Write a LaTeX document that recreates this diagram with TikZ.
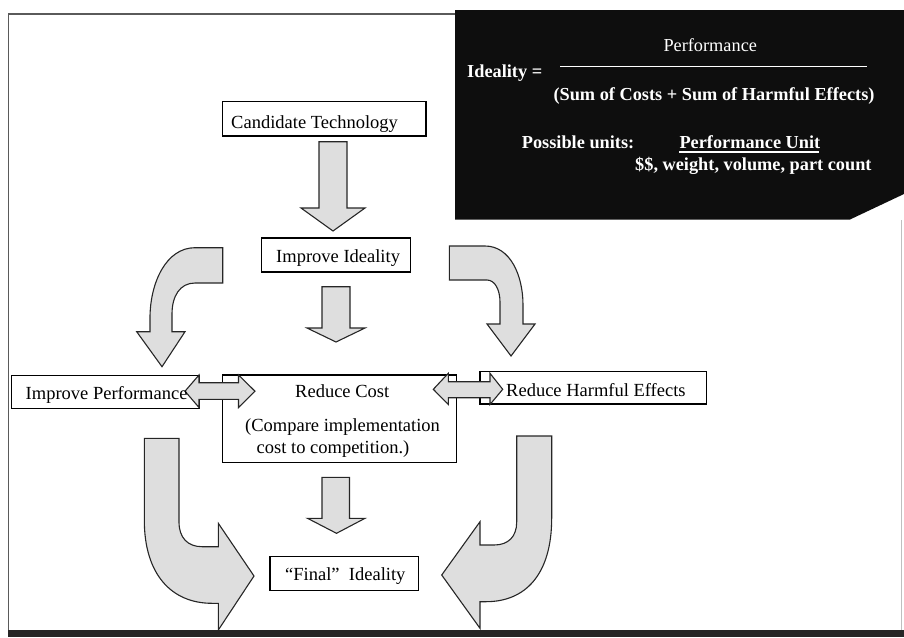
\documentclass[tikz,border=0pt]{standalone}
\usepackage{fontspec}
\setmainfont{Liberation Serif}
\definecolor{arrowgray}{RGB}{222,222,222}
\definecolor{panelblack}{RGB}{14,14,14}
\definecolor{framegray}{RGB}{90,90,90}
\begin{document}
\begin{tikzpicture}[x=1pt,y=-1pt,
  box/.style={draw, line width=1.1pt, inner sep=0pt, fill=white},
  lbl/.style={anchor=base west, inner sep=0pt, font=\fontsize{18.5}{20}\selectfont},
  plbl/.style={anchor=base west, inner sep=0pt, text=white, font=\fontsize{18.3}{20}\selectfont},
  wlbl/.style={anchor=base west, inner sep=0pt, text=white, font=\fontsize{18.3}{20}\selectfont\bfseries},
  blockarrow/.style={draw=black!85, line width=1.1pt, fill=arrowgray, line join=miter}]
\useasboundingbox (0,0) rectangle (904,637);

% page frame
\draw[framegray, line width=1.5pt] (8.3,630) -- (8.3,14) -- (455,14);
\draw[black!25, line width=0.8pt] (901.5,220) -- (901.5,630);
\fill[black!85] (8,630) rectangle (904,637);

% formula panel
\fill[panelblack] (455,10) -- (904,10) -- (904,194) -- (850,219.5) -- (455,219.5) -- cycle;
\node[plbl] (perf) at (663.3,51.7) {Performance};
\node[wlbl] (ideq) at (467,77.7) {Ideality =};
\draw[white, line width=1.4pt] (560,66.7) -- (867,66.7);
\node[wlbl] (denom) at (553.3,100) {(Sum of Costs + Sum of Harmful Effects)};
\node[wlbl] (units) at (521.7,148) {Possible units:};
\node[wlbl] (punit) at (679.3,148) {Performance Unit};
\draw[white, line width=1.4pt] (punit.south west) ++(0,3.5) -- ++(140,0);
\node[wlbl] (pcost) at (635,170) {\$\$, weight, volume, part count};

% boxes
\node[box, minimum width=203.3pt, minimum height=34.3pt] (ct) at (324.35,118.85) {};
\node[box, minimum width=149pt, minimum height=34pt] (ii) at (336.2,255) {};
\node[box, minimum width=187.6pt, minimum height=32.6pt] (ip) at (105.5,392) {};
\node[box, minimum width=234pt, minimum height=87.3pt] (rc) at (339.5,418.65) {};
\node[box, minimum width=226.7pt, minimum height=32.3pt] (rh) at (593.35,387.85) {};
\node[box, minimum width=148.3pt, minimum height=34pt] (fi) at (344.15,573.7) {};

% straight block arrows
\draw[blockarrow] (319,141.7) -- (347,141.7) -- (347,208) -- (365,208) -- (333,231) -- (301,208) -- (319,208) -- cycle;
\draw[blockarrow] (322,286.7) -- (350,286.7) -- (350,328) -- (365,328) -- (336,342) -- (307,328) -- (322,328) -- cycle;
\draw[blockarrow] (322,477.3) -- (349.5,477.3) -- (349.5,518.3) -- (365,518.3) -- (336.5,533.3) -- (307.5,518.3) -- (322,518.3) -- cycle;

% bent arrows out of "Improve Ideality"
\draw[blockarrow] (222.7,247.7) -- (195,247.7) .. controls (166,247.7) and (150,283) .. (150,318)
  -- (150,331.7) -- (136.7,331.7) -- (162,366.7) -- (185,331.7) -- (172,331.7) -- (172,314)
  .. controls (172,296) and (180,283) .. (195,283) -- (222.7,283) -- cycle;
\draw[blockarrow] (449.3,246) -- (485,246) .. controls (510,246) and (523,275) .. (523,305)
  -- (523,324) -- (535,324) -- (511,356) -- (487,324) -- (500,324) -- (500,302)
  .. controls (500,290) and (495,280) .. (487,280) -- (449.3,280) -- cycle;

% U-shaped arrows into "Final" Ideality
\draw[blockarrow] (144.3,438.3) -- (179,438.3) -- (179,522) .. controls (179,538) and (188,546.7) .. (202,546.7)
  -- (218.3,546.7) -- (218.3,523.3) -- (254,576) -- (218.3,630) -- (218.3,603.3) -- (212,603.3)
  .. controls (172,603.3) and (144.3,575) .. (144.3,520) -- cycle;
\draw[blockarrow] (516.7,436) -- (551.7,436) -- (551.7,518) .. controls (551.7,575) and (525,601.7) .. (486,601.7)
  -- (480,601.7) -- (480,628.3) -- (441.7,575) -- (480,521.7) -- (480,545) -- (494,545)
  .. controls (508,545) and (516.7,537) .. (516.7,522) -- cycle;

% double arrows between the three improvement boxes
\draw[blockarrow] (185,391.2) -- (199,375) -- (199,382.7) -- (238.5,382.7) -- (238.5,375) -- (255,391.2)
  -- (238.5,407.5) -- (238.5,399.3) -- (199,399.3) -- (199,407.5) -- cycle;
\draw[blockarrow] (433.3,389.3) -- (448.3,373.3) -- (448.3,381.7) -- (490,381.7) -- (490,373.3) -- (502.7,389.3)
  -- (490,404.5) -- (490,397.7) -- (448.3,397.7) -- (448.3,404.5) -- cycle;

% box labels
\node[lbl] (ctl) at (231,128.3) {Candidate Technology};
\node[lbl] (iil) at (276,262.5) {Improve Ideality};
\node[lbl] (ipl) at (25.5,399) {Improve Performance};
\node[lbl] (rcl) at (295,397.7) {Reduce Cost};
\node[lbl] (rcl2) at (245,431.5) {(Compare implementation};
\node[lbl] (rcl3) at (256.5,453.3) {cost to competition.)};
\node[lbl] (rhl) at (506,396) {Reduce Harmful Effects};
\node[lbl] (fil) at (285,580) {“Final”\ \ Ideality};
\end{tikzpicture}
\end{document}
